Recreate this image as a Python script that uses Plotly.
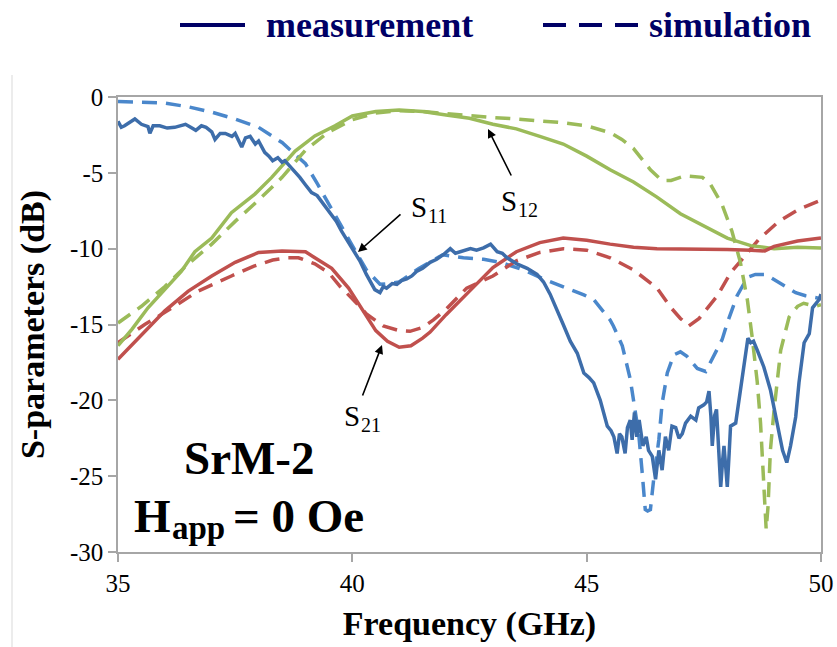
import plotly.graph_objects as go

# ---------------- data ----------------
s11_meas_f = [35.0, 35.07, 35.14, 35.25, 35.36, 35.5, 35.64, 35.68, 35.75, 35.89, 36.05, 36.21, 36.35, 36.44,
              36.55, 36.66, 36.78, 36.88, 37.0, 37.07, 37.18, 37.29, 37.43, 37.5, 37.64, 37.72, 37.82, 37.93,
              38.0, 38.13, 38.22, 38.3, 38.41, 38.5, 38.56, 38.65, 38.78, 38.88, 38.99, 39.13, 39.25, 39.35,
              39.45, 39.56, 39.66, 39.77, 39.88, 40.0, 40.16, 40.3, 40.4, 40.48, 40.59, 40.66, 40.73, 40.85,
              40.95, 41.05, 41.16, 41.27, 41.37, 41.5, 41.66, 41.8, 41.94, 42.09, 42.2, 42.3, 42.42, 42.52,
              42.65, 42.8, 42.95, 43.09, 43.2, 43.3, 43.51, 43.73, 43.94, 44.08, 44.22, 44.37, 44.5, 44.65,
              44.8, 44.94, 45.05, 45.15, 45.29, 45.44, 45.52, 45.58, 45.65, 45.7, 45.75, 45.82, 45.87, 45.93,
              45.97, 46.02, 46.07, 46.12, 46.2, 46.27, 46.32, 46.4, 46.47, 46.54, 46.61, 46.68, 46.75, 46.82,
              46.9, 46.97, 47.04, 47.11, 47.22, 47.33, 47.39, 47.5, 47.56, 47.61, 47.65, 47.68, 47.73, 47.77,
              47.82, 47.86, 47.9, 47.93, 47.97, 48.0, 48.04, 48.07, 48.18, 48.28, 48.36, 48.44, 48.5, 48.56,
              48.64, 48.78, 48.92, 49.07, 49.18, 49.27, 49.35, 49.46, 49.53, 49.64, 49.75, 49.82, 49.96, 50.0]
s11_meas_db = [-1.6, -2.0, -1.9, -1.7, -1.45, -1.8, -1.95, -2.4, -1.9, -1.9, -2.05, -2.0, -1.85, -1.8,
               -2.0, -2.2, -1.9, -2.0, -2.3, -2.8, -2.4, -2.4, -2.6, -2.4, -3.3, -2.7, -2.6, -3.1,
               -2.9, -3.65, -3.9, -4.2, -4.0, -4.3, -4.2, -4.5, -4.9, -5.3, -5.75, -6.3, -6.5, -6.9,
               -7.3, -7.75, -8.2, -8.85, -9.4, -10.0, -10.8, -11.7, -12.3, -12.7, -12.9, -12.5, -12.6, -12.3,
               -12.35, -12.1, -12.0, -11.8, -11.5, -11.3, -10.9, -10.7, -10.4, -10.0, -10.3, -10.2, -10.1, -10.0,
               -10.1, -9.95, -9.7, -10.2, -10.3, -10.6, -11.0, -11.3, -11.7, -12.2, -13.0, -14.0, -15.0, -16.1,
               -16.9, -18.2, -18.5, -18.85, -20.0, -21.7, -22.0, -22.4, -23.5, -22.2, -22.4, -23.5, -21.8, -21.3,
               -22.6, -20.8, -22.4, -21.3, -23.0, -22.4, -23.3, -23.7, -25.2, -23.3, -24.6, -22.4, -23.3, -21.7,
               -21.8, -22.5, -22.2, -21.5, -21.05, -21.3, -20.5, -20.3, -20.1, -19.4, -21.0, -23.0, -21.0, -20.6,
               -23.5, -25.7, -24.0, -23.0, -24.5, -25.7, -23.5, -21.7, -21.5, -19.3, -17.5, -15.9, -16.2, -16.1,
               -16.7, -17.8, -19.3, -21.5, -23.3, -24.1, -23.0, -21.1, -18.85, -16.2, -15.6, -13.9, -13.35, -13.0]

s11_sim_f = [35.0, 35.5, 36.0, 36.5, 37.0, 37.5, 38.0, 38.5, 39.0, 39.25, 39.5, 39.75, 40.0, 40.3, 40.59,
             40.8, 41.0, 41.42, 41.93, 42.37, 42.8, 43.16, 43.65, 44.08, 44.5, 44.94, 45.15, 45.36, 45.5,
             45.57, 45.76, 45.93, 46.11, 46.18, 46.25, 46.3, 46.36, 46.43, 46.54, 46.61, 46.72, 46.86, 47.0,
             47.14, 47.36, 47.54, 47.71, 47.89, 48.0, 48.21, 48.43, 48.6, 48.82, 49.1, 49.46, 49.67, 50.0]
s11_sim_db = [-0.3, -0.35, -0.4, -0.65, -1.0, -1.45, -2.0, -3.0, -4.4, -5.7, -7.1, -8.4, -9.8, -11.4, -12.35,
              -12.3, -12.2, -11.3, -10.4, -10.6, -10.7, -10.9, -11.4, -12.0, -12.5, -13.05, -13.35, -14.2, -14.7,
              -15.1, -16.4, -18.6, -22.2, -24.6, -27.2, -27.3, -27.2, -25.2, -22.6, -20.2, -18.2, -17.0, -16.8,
              -17.1, -17.9, -18.1, -17.1, -16.0, -14.9, -13.1, -11.9, -11.7, -11.7, -12.25, -12.9, -13.1, -13.3]

s21_meas_f = [35.0, 35.57, 36.0, 36.5, 37.0, 37.5, 38.0, 38.5, 39.0, 39.2, 39.56, 39.92, 40.25, 40.5, 40.75,
              41.0, 41.25, 41.5, 41.66, 42.0, 42.5, 43.0, 43.5, 44.0, 44.5, 45.0, 45.5, 46.0, 46.5, 47.0,
              47.5, 48.0, 48.5, 48.8, 49.0, 49.5, 50.0]
s21_meas_db = [-17.3, -15.5, -14.1, -12.8, -11.8, -10.9, -10.25, -10.15, -10.2, -10.6, -11.3, -12.6, -14.2, -15.4, -16.1,
               -16.5, -16.4, -15.9, -15.5, -14.35, -12.8, -11.25, -10.2, -9.6, -9.3, -9.45, -9.7, -9.9, -10.0, -10.0,
               -10.05, -10.05, -10.1, -10.15, -9.85, -9.5, -9.3]

s21_sim_f = [35.0, 35.57, 36.0, 36.71, 37.42, 37.9, 38.3, 38.63, 38.85, 39.2, 39.5, 39.74, 40.0, 40.3, 40.66,
             41.0, 41.23, 41.5, 41.73, 42.0, 42.44, 43.0, 43.5, 44.0, 44.5, 45.0, 45.5, 46.0, 46.5, 46.8,
             47.0, 47.18, 47.4, 47.79, 48.07, 48.32, 48.67, 49.1, 49.53, 50.0]
s21_sim_db = [-16.2, -15.0, -14.2, -12.8, -11.8, -11.15, -10.75, -10.6, -10.6, -11.0, -11.6, -12.5, -13.3, -14.3, -15.1,
              -15.4, -15.45, -15.2, -14.7, -14.0, -12.6, -11.8, -10.8, -10.25, -10.0, -10.1, -10.6, -11.4, -12.6, -13.9,
              -14.6, -15.1, -14.6, -13.1, -11.6, -10.7, -9.4, -8.2, -7.4, -6.8]

s12_meas_f = [35.0, 35.3, 35.64, 36.0, 36.35, 36.64, 37.0, 37.42, 37.92, 38.28, 38.78, 39.2, 39.63, 40.0,
              40.5, 41.0, 41.5, 42.0, 42.5, 43.0, 43.5, 44.0, 44.5, 45.0, 45.5, 46.0, 46.5, 47.0, 47.5,
              48.0, 48.5, 49.0, 49.5, 50.0]
s12_meas_db = [-16.4, -15.3, -13.9, -12.7, -11.5, -10.2, -9.3, -7.63, -6.4, -5.3, -3.56, -2.57, -1.9, -1.25,
               -0.95, -0.85, -0.96, -1.18, -1.4, -1.8, -2.1, -2.6, -3.1, -3.9, -4.8, -5.6, -6.6, -7.7, -8.5,
               -9.3, -9.8, -10.0, -9.9, -9.95]

s12_sim_f = [35.0, 35.5, 36.0, 36.5, 37.0, 37.5, 38.0, 38.5, 39.0, 39.5, 40.0, 40.5, 41.0, 41.5, 42.0, 42.5,
             43.0, 43.5, 44.0, 44.5, 45.0, 45.25, 45.5, 45.75, 46.0, 46.36, 46.6, 46.8, 47.1, 47.47, 47.64,
             47.89, 48.1, 48.28, 48.43, 48.53, 48.64, 48.71, 48.75, 48.8, 48.83, 48.87, 48.92, 49.0, 49.14,
             49.32, 49.5, 49.63, 49.89, 50.0]
s12_sim_db = [-14.9, -13.8, -12.5, -11.0, -9.7, -8.2, -6.8, -5.3, -3.5, -2.3, -1.5, -1.05, -0.9, -0.95, -1.1, -1.25,
              -1.35, -1.45, -1.55, -1.7, -1.9, -2.1, -2.35, -2.8, -3.4, -4.8, -5.5, -5.5, -5.2, -5.3, -5.75,
              -7.1, -8.85, -10.9, -13.4, -15.8, -18.8, -21.5, -24.1, -26.8, -28.5, -27.0, -23.3, -20.6, -16.7,
              -14.5, -13.8, -13.6, -13.8, -13.7]

x_ticks = [35, 40, 45, 50]
y_ticks = [0, -5, -10, -15, -20, -25, -30]

# ---------------- styling ----------------
BLUE_M = "#3D6DAA"
BLUE_S = "#4A87CB"
RED = "#C0504D"
GREEN = "#9BBB59"
NAVY = "#000066"
SERIF = "Liberation Serif"
DASH = "15px,9px"
LW = 3.5

fig = go.Figure()
series = [
    (s11_sim_f, s11_sim_db, BLUE_S, DASH),
    (s21_sim_f, s21_sim_db, RED, DASH),
    (s12_sim_f, s12_sim_db, GREEN, DASH),
    (s12_meas_f, s12_meas_db, GREEN, "solid"),
    (s21_meas_f, s21_meas_db, RED, "solid"),
    (s11_meas_f, s11_meas_db, BLUE_M, "solid"),
]
for fx, fy, col, dash in series:
    fig.add_trace(go.Scatter(x=fx, y=fy, mode="lines", showlegend=False,
                             line=dict(color=col, width=LW, dash=dash), hoverinfo="skip"))

axis_common = dict(showgrid=False, zeroline=False, showline=True, linecolor="#A6A6A6", linewidth=1.5,
                   mirror=True, ticks="outside", ticklen=8, tickcolor="#A6A6A6", tickwidth=1.5,
                   automargin=False, tickfont=dict(family=SERIF, size=25, color="black"))

fig.update_layout(
    width=837, height=647,
    margin=dict(l=118, r=16, t=97, b=95),
    paper_bgcolor="white", plot_bgcolor="white",
    font=dict(family=SERIF, color="black"),
    xaxis=dict(range=[35, 50], tickmode="array", tickvals=x_ticks,
               title=dict(text="<b>Frequency (GHz)</b>", font=dict(family=SERIF, size=34, color="black")),
               **axis_common),
    yaxis=dict(range=[-30, 0], tickmode="array", tickvals=y_ticks,
               ticktext=[str(v) for v in y_ticks],
               title=dict(text="<b>S-parameters (dB)</b>", font=dict(family=SERIF, size=34, color="black")),
               **axis_common),
)


# pixel -> data helpers (for placing annotation text only)
def dx(p):
    return 35.0 + (p - 118.0) * 15.0 / 703.0


def dy(p):
    return -(p - 97.0) * 30.0 / 455.0


# arrows
arrow = dict(showarrow=True, arrowhead=2, arrowsize=1.1, arrowwidth=1.6, arrowcolor="black",
             axref="x", ayref="y", text="")
fig.add_annotation(x=dx(358), y=dy(252), ax=dx(402), ay=dy(213), **arrow)
fig.add_annotation(x=dx(488), y=dy(129), ax=dx(512), ay=dy(177), **arrow)
fig.add_annotation(x=dx(382), y=dy(345), ax=dx(362), ay=dy(397), **arrow)


# S-labels: main letter + smaller subscript as separate texts
def s_label(x_left, base, sub):
    fig.add_annotation(x=dx(x_left), y=dy(base - 7.5), xanchor="left", yanchor="middle", text="S",
                       showarrow=False, font=dict(family=SERIF, size=29, color="black"))
    fig.add_annotation(x=dx(x_left + 16.5), y=dy(base + 7 - 5.2), xanchor="left", yanchor="middle", text=sub,
                       showarrow=False, font=dict(family=SERIF, size=20, color="black"))


s_label(409, 214, "11")
s_label(499, 208, "12")
s_label(342, 423, "21")

big = dict(family=SERIF, size=47, color="black")
fig.add_annotation(x=dx(249), y=dy(458), text="<b>SrM-2</b>", showarrow=False, font=big)
fig.add_annotation(x=dx(132), y=dy(516), xanchor="left", yanchor="middle", text="<b>H</b>",
                   showarrow=False, font=big)
fig.add_annotation(x=dx(170), y=dy(528), xanchor="left", yanchor="middle", text="<b>app</b>",
                   showarrow=False, font=dict(family=SERIF, size=33, color="black"))
fig.add_annotation(x=dx(231), y=dy(516), xanchor="left", yanchor="middle", text="<b>= 0 Oe</b>",
                   showarrow=False, font=big)


# legend drawn in paper coordinates
def px_x(p):
    return (p - 118.0) / 703.0


def px_y(p):
    return (552.0 - p) / 455.0


fig.add_shape(type="line", xref="paper", yref="paper", x0=px_x(180), x1=px_x(245), y0=px_y(25), y1=px_y(25),
              line=dict(color=NAVY, width=4))
fig.add_shape(type="line", xref="paper", yref="paper", x0=px_x(543), x1=px_x(638), y0=px_y(25), y1=px_y(25),
              line=dict(color=NAVY, width=4, dash="23px,13px"))
leg_font = dict(family=SERIF, size=36, color=NAVY)
fig.add_annotation(xref="paper", yref="paper", x=px_x(264), y=px_y(25), xanchor="left", yanchor="middle",
                   text="<b>measurement</b>", showarrow=False, font=leg_font)
fig.add_annotation(xref="paper", yref="paper", x=px_x(647), y=px_y(25), xanchor="left", yanchor="middle",
                   text="<b>simulation</b>", showarrow=False, font=leg_font)

# faint outer chart-area border on the left
fig.add_shape(type="line", xref="paper", yref="paper", x0=px_x(12), x1=px_x(12), y0=px_y(75), y1=px_y(647),
              line=dict(color="#D9D9D9", width=1))

fig.write_html("out.html")
